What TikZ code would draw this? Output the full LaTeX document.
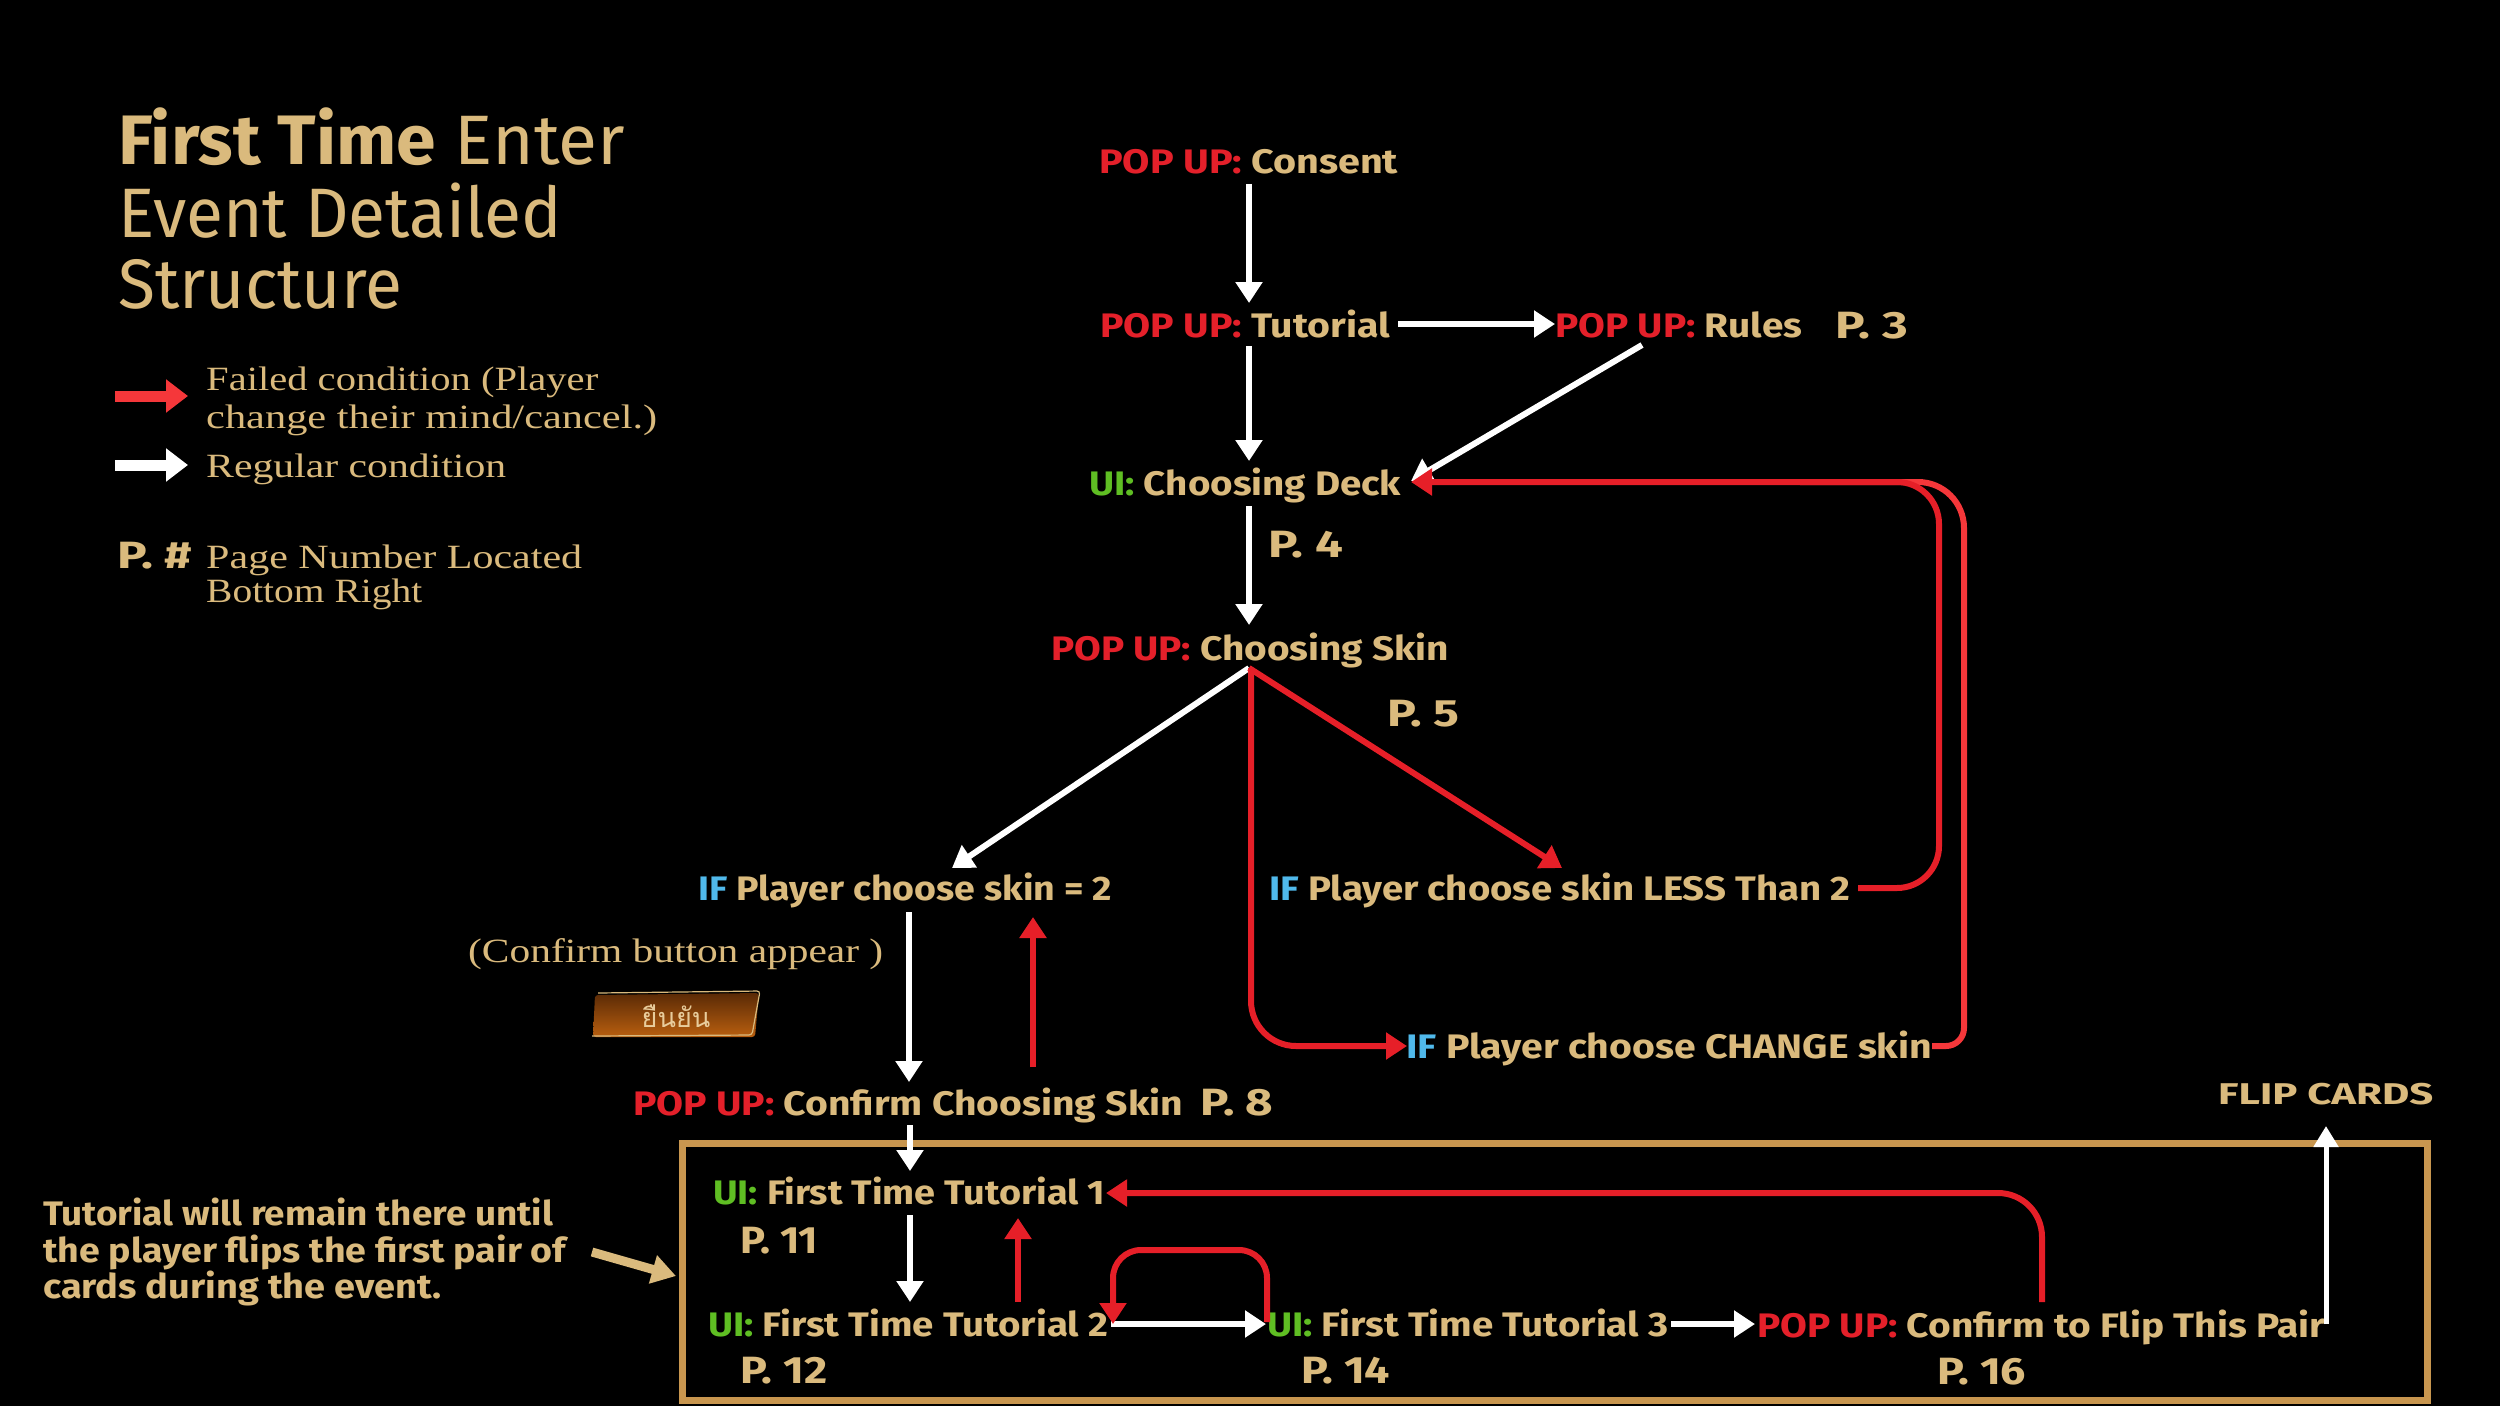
\documentclass[tikz,border=0pt]{standalone}
\usepackage{graphicx}
\usepackage{fontspec}
\setmainfont{Fira Sans}
\newfontfamily\legf{Liberation Serif}
\newfontfamily\thaifont[Script=Thai]{Loma}
\usetikzlibrary{arrows.meta}
\definecolor{gold}{HTML}{DABA7D}
\definecolor{popred}{HTML}{E4202A}
\definecolor{uigreen}{HTML}{5FBE23}
\definecolor{ifblue}{HTML}{50B9EB}
\definecolor{arrred}{HTML}{E61F28}
\definecolor{arrredb}{HTML}{F5373A}
\definecolor{boxgold}{HTML}{C8964F}
\definecolor{btndark}{HTML}{5A2A06}
\definecolor{btnlight}{HTML}{B95F0F}
\definecolor{thaigold}{HTML}{E8CC9C}
\newcommand{\fw}[2]{\resizebox{#1pt}{\height}{#2}}
\newcommand{\pu}{\textcolor{popred}{POP UP:}}
\newcommand{\uil}{\textcolor{uigreen}{UI:}}
\newcommand{\ifl}{\textcolor{ifblue}{IF}}
\begin{document}
\begin{tikzpicture}[x=1pt,y=-1pt,
  lbl/.style={inner sep=0pt, anchor=base west, text=gold, font=\bfseries\fontsize{34}{38}\selectfont},
  pnum/.style={inner sep=0pt, anchor=base west, text=gold, font=\bfseries\fontsize{38}{42}\selectfont},
  ttl/.style={inner sep=0pt, anchor=base west, text=gold, font=\fontsize{70}{80}\selectfont},
  leg/.style={inner sep=0pt, anchor=base west, text=gold, font=\legf\fontsize{34}{38}\selectfont},
  wa/.style={draw=white, line width=6pt, -{Triangle[width=26pt,length=21pt]}},
  ra/.style={draw=arrred, line width=6pt, -{Triangle[width=26pt,length=21pt]}},
  rl/.style={draw=arrredb, line width=6pt}]
\fill[black] (0,0) rectangle (2500,1406);
\useasboundingbox (0,0) rectangle (2500,1406);

% title
\node[ttl] (t1) at (118,164) {\fw{507}{\textbf{First Time} Enter}};
\node[ttl] (t2) at (118,237) {\fw{444}{Event Detailed}};
\node[ttl] (t3) at (118,308) {\fw{284}{Structure}};

% legend
\coordinate (lr0) at (115,396); \coordinate (lr1) at (188,396);
\coordinate (lw0) at (115,465); \coordinate (lw1) at (188,465);
\draw[draw=arrredb, line width=11pt, -{Triangle[width=32pt,length=22pt]}] (lr0) -- (lr1);
\draw[draw=white, line width=11pt, -{Triangle[width=32pt,length=22pt]}] (lw0) -- (lw1);
\node[leg] (lg1) at (206,390) {\fw{392}{Failed condition (Player}};
\node[leg] (lg2) at (206,428) {\fw{451}{change their mind/cancel.)}};
\node[leg] (lg3) at (206,477) {\fw{300}{Regular condition}};
\node[pnum] (lgp) at (117,568) {\fw{75}{P. \#}};
\node[leg] (lg4) at (206,568) {\fw{376}{Page Number Located}};
\node[leg] (lg5) at (206,602) {\fw{216}{Bottom Right}};

% flow nodes
\node[lbl] (cons) at (1099,173) {\fw{299}{\pu{} Consent}};
\node[lbl] (tut) at (1100,337) {\fw{290}{\pu{} Tutorial}};
\node[lbl] (rules) at (1555,337) {\fw{247}{\pu{} Rules}};
\node[pnum] (p3) at (1835,338) {\fw{73}{P. 3}};
\node[lbl] (deck) at (1089,495) {\fw{312}{\uil{} Choosing Deck}};
\node[pnum] (p4) at (1268,557) {\fw{75}{P. 4}};
\node[lbl] (skin) at (1051,660) {\fw{398}{\pu{} Choosing Skin}};
\node[pnum] (p5) at (1387,726) {\fw{72}{P. 5}};
\node[lbl] (if2) at (698,900) {\fw{414}{\ifl{} Player choose skin = 2}};
\node[lbl] (less) at (1269,900) {\fw{581}{\ifl{} Player choose skin LESS Than 2}};
\node[leg] (paren) at (468,962) {\fw{415}{(Confirm button appear )}};
\node[lbl] (change) at (1406,1058) {\fw{526}{\ifl{} Player choose CHANGE skin}};
\node[lbl] (confskin) at (633,1115) {\fw{550}{\pu{} Confirm Choosing Skin}};
\node[pnum] (p8) at (1200,1115) {\fw{73}{P. 8}};
\node[lbl, font=\bfseries\fontsize{30}{34}\selectfont] (flip) at (2218,1104) {\fw{215}{FLIP CARDS}};

% confirm button
\shade[top color=btndark, bottom color=btnlight, rounded corners=3pt] (595,995) -- (759,993) -- (755,1037) -- (593,1037) -- cycle;
\draw[gold, line width=1.2pt, rounded corners=3pt] (598,993) -- (760,991) -- (752,1035) -- (592,1036);
\node[inner sep=0pt, text=thaigold, font=\thaifont\fontsize{27}{30}\selectfont] (btn) at (676,1016) {ยืนยัน};

% tutorial box
\draw[boxgold, line width=7pt] (682,1143) rectangle (2427,1400);
\node[lbl] (ftt1) at (713,1204) {\fw{392}{\uil{} First Time Tutorial 1}};
\node[pnum] (p11) at (740,1253) {\fw{78}{P. 11}};
\node[lbl] (ftt2) at (708,1336) {\fw{400}{\uil{} First Time Tutorial 2}};
\node[pnum] (p12) at (740,1383) {\fw{87}{P. 12}};
\node[lbl] (ftt3) at (1267,1336) {\fw{401}{\uil{} First Time Tutorial 3}};
\node[pnum] (p14) at (1301,1383) {\fw{89}{P. 14}};
\node[lbl] (cflip) at (1757,1337) {\fw{568}{\pu{} Confirm to Flip This Pair}};
\node[pnum] (p16) at (1937,1384) {\fw{89}{P. 16}};

% note
\node[lbl] (n1) at (43,1225) {\fw{510}{Tutorial will remain there until}};
\node[lbl] (n2) at (43,1262) {\fw{523}{the player flips the first pair of}};
\node[lbl] (n3) at (43,1298) {\fw{398}{cards during the event.}};
\coordinate (g0) at (592,1252);
\draw[draw=gold, line width=9pt, -{Triangle[width=28pt,length=24pt]}] (g0) -- (676,1276);

% white connectors
\draw[wa] (cons.south -| 1249,0) ++(0,10) -- (1249,303);
\draw[wa] (1398,324) -- (rules.west |- 0,324);
\draw[wa] (1249,346) -- (1249,461);
\draw[wa] (1642,345) -- (1411,481);
\draw[wa] (1249,506) -- (1249,625);
\draw[wa] (1249,668) -- (952,868);
\draw[wa] (909,912) -- (909,1082);
\draw[wa] (910,1125) -- (910,1171);
\draw[wa] (910,1215) -- (910,1302);
\draw[wa] (1111,1324) -- (1266,1324);
\draw[wa] (1671,1324) -- (1755,1324);
\draw[draw=white, line width=5pt, -{Triangle[width=24pt,length=21pt]}] (2326,1324) -- (2326,1126);

% red connectors
\draw[ra] (1249,668) -- (1562,868);
\draw[ra, rounded corners=45pt] (1251,668) -- (1251,1046) -- (1407,1046);
\draw[rl] (1932,1046) [rounded corners=18pt] -- (1964,1046) [rounded corners=46pt] -- (1964,482) -- (1800,482);
\draw[ra, rounded corners=42pt] (1858,888) -- (1939,888) -- (1939,482) -- (1411,482);
\draw[ra] (1033,1067) -- (1033,917);
\draw[ra] (1018,1302) -- (1018,1218);
\draw[ra, rounded corners=28pt] (1267,1322) -- (1267,1250) -- (1113,1250) -- (1113,1324);
\draw[ra, rounded corners=44pt] (2042,1302) -- (2042,1193) -- (1106,1193);
\end{tikzpicture}
\end{document}
